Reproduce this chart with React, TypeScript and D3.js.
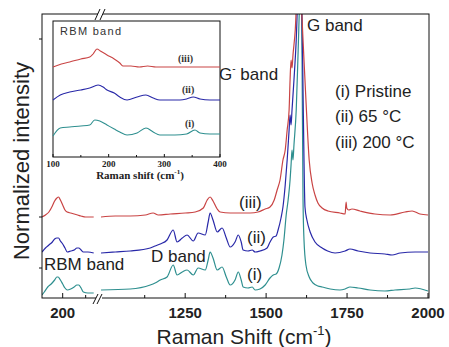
import * as d3 from "d3";

// Raman spectra, [shift cm-1, normalized intensity (offset)]
const pristineLow = [[110,3],[120,6],[135,11],[150,14],[165,18],[175,21],[180,21],[190,18],[200,14],[210,10],[220,8],[235,9],[250,11],[262,13],[270,13],[280,10],[290,6],[310,5],[335,5]];
const c65Low = [[110,46],[125,50],[140,53],[155,56],[165,59],[175,60],[182,60],[190,57],[200,54],[210,50],[220,46],[235,47],[250,48],[262,50],[270,50],[280,48],[290,46],[310,46],[335,45]];
const c200Low = [[110,81],[125,83],[140,86],[155,92],[165,97],[175,100],[182,101],[190,98],[200,93],[210,88],[220,86],[235,85],[250,84],[265,83],[280,82],[300,81],[320,81],[335,81]];

const pristineHigh = [[990,8],[1080,9],[1142,13],[1157,15],[1173,18],[1194,21],[1213,33],[1225,23],[1241,26],[1256,28],[1275,23],[1290,30],[1312,28],[1321,38],[1327,46],[1336,40],[1349,28],[1364,31],[1377,21],[1389,13],[1404,18],[1414,26],[1423,18],[1429,11],[1444,10],[1457,11],[1466,8],[1481,9],[1497,13],[1512,20],[1522,23],[1531,24],[1540,30],[1549,43],[1555,58],[1562,83],[1568,98],[1574,118],[1577,133],[1580,148],[1583,138],[1586,153],[1593,188],[1599,248],[1605,308],[1608,318],[1611,238],[1614,98],[1617,58],[1623,33],[1633,21],[1645,15],[1660,12],[1673,11],[1698,9],[1728,8],[1744,9],[1759,11],[1784,10],[1821,8],[1867,7],[1898,8],[1944,9],[1960,10],[2000,7]];
const c65High = [[990,45],[1034,46],[1080,47],[1142,50],[1157,52],[1173,54],[1194,58],[1213,68],[1225,56],[1241,60],[1256,63],[1275,57],[1290,65],[1312,63],[1321,76],[1327,85],[1336,78],[1349,66],[1364,70],[1377,60],[1389,51],[1404,56],[1414,63],[1423,56],[1429,48],[1444,47],[1457,48],[1466,46],[1481,47],[1503,50],[1512,56],[1522,61],[1531,62],[1537,68],[1546,80],[1552,91],[1559,113],[1565,138],[1571,168],[1574,183],[1577,173],[1580,188],[1586,218],[1593,258],[1599,308],[1605,318],[1611,278],[1614,208],[1617,138],[1620,91],[1626,78],[1636,66],[1651,56],[1673,50],[1690,47],[1713,45],[1744,47],[1759,49],[1784,47],[1821,45],[1867,44],[1889,43],[1914,45],[1960,46],[2000,46]];
const c200High = [[990,81],[1034,82],[1080,82],[1127,83],[1151,85],[1167,83],[1204,84],[1250,85],[1281,86],[1306,90],[1318,98],[1327,101],[1336,97],[1349,89],[1358,86],[1389,85],[1420,85],[1451,85],[1475,86],[1497,89],[1512,91],[1525,98],[1534,108],[1543,118],[1552,138],[1559,148],[1565,168],[1571,188],[1574,218],[1577,238],[1580,230],[1583,243],[1590,268],[1596,308],[1602,318],[1608,298],[1614,258],[1623,198],[1633,138],[1642,115],[1651,103],[1660,95],[1673,90],[1691,87],[1728,85],[1744,84],[1747,96],[1749,90],[1755,88],[1765,89],[1790,87],[1836,84],[1883,83],[1929,86],[1951,87],[1975,84],[2000,83]];

// inset RBM region
const insetPristine = [[100,21],[113,29],[130,30],[150,31],[166,32],[175,37],[184,36],[197,32],[210,28],[220,25],[233,22],[251,24],[267,29],[280,25],[292,22],[319,22],[340,23],[355,27],[364,24],[382,23],[400,23]];
const inset65 = [[100,57],[113,62],[130,65],[150,67],[166,69],[181,72],[190,70],[197,67],[210,64],[220,60],[233,57],[251,60],[267,62],[280,59],[292,57],[310,57],[328,57],[340,58],[352,60],[364,58],[382,57],[400,57]];
const inset200 = [[100,90],[115,93],[130,95],[150,98],[166,100],[172,103],[179,108],[185,106],[197,102],[210,98],[220,94],[226,91],[240,91],[255,90],[270,91],[285,90],[300,90],[330,90],[360,90],[400,90]];

const lowTicks = [200];
const lowMinor = [300];
const highTicks = [1250, 1500, 1750, 2000];
const highMinor = [1125, 1375, 1625, 1875];
const yTicks = [30, 81, 259];
const insetTicks = [100, 200, 300, 400];
const insetMinor = [150, 250, 350];

const RED = "#C94444";
const BLUE = "#2828A8";
const TEAL = "#2E8F8F";
const SANS = "'Liberation Sans', Arial, sans-serif";
const SERIF = "'Liberation Serif', 'Times New Roman', serif";

const W = 449, H = 347;
const L = 42, R = 429, T = 14, B = 298;

export default function App() {
  const xLow = d3.scaleLinear().domain([110, 345]).range([L, 96]);
  const xHigh = d3.scaleLinear().domain([990, 2000]).range([101, 428]);
  const y = d3.scaleLinear().domain([0, 284]).range([B, T]);

  const ix = d3.scaleLinear().domain([100, 400]).range([53, 220]);
  const iy = d3.scaleLinear().domain([0, 136]).range([157, 21]);

  const mk = (xs: d3.ScaleLinear<number, number>, ys: d3.ScaleLinear<number, number>) =>
    d3.line<number[]>().x((d) => xs(d[0])).y((d) => ys(d[1])).curve(d3.curveMonotoneX);
  const lowLine = mk(xLow, y);
  const highLine = mk(xHigh, y);
  const insetLine = mk(ix, iy);

  const series = [
    { low: pristineLow, high: pristineHigh, inset: insetPristine, color: TEAL },
    { low: c65Low, high: c65High, inset: inset65, color: BLUE },
    { low: c200Low, high: c200High, inset: inset200, color: RED },
  ];

  const brk = 98;

  return (
    <div style={{ position: "fixed", left: 0, top: 0 }}>
      <svg width={W} height={H} style={{ display: "block", background: "#fff" }}>
        <defs>
          <clipPath id="clipLow"><rect x={L} y={T} width={96 - L} height={B - T} /></clipPath>
          <clipPath id="clipHigh"><rect x={100} y={T} width={R - 100} height={B - T} /></clipPath>
        </defs>

        {series.map((s, i) => (
          <g key={i} fill="none" stroke={s.color} strokeWidth={1.2}>
            <path d={lowLine(s.low) ?? ""} clipPath="url(#clipLow)" />
            <path d={highLine(s.high) ?? ""} clipPath="url(#clipHigh)" />
          </g>
        ))}

        {/* frame */}
        <rect x={L} y={T} width={R - L} height={B - T} fill="none" stroke="#111" strokeWidth={1} />

        {/* bottom ticks */}
        {lowTicks.map((t) => (
          <line key={"lt" + t} x1={xLow(t)} x2={xLow(t)} y1={B} y2={B - 5} stroke="#111" />
        ))}
        {lowMinor.map((t) => (
          <line key={"lm" + t} x1={xLow(t)} x2={xLow(t)} y1={B} y2={B - 3} stroke="#111" />
        ))}
        {highTicks.map((t) => (
          <line key={"ht" + t} x1={xHigh(t)} x2={xHigh(t)} y1={B} y2={B - 5} stroke="#111" />
        ))}
        {highMinor.map((t) => (
          <line key={"hm" + t} x1={xHigh(t)} x2={xHigh(t)} y1={B} y2={B - 3} stroke="#111" />
        ))}
        {yTicks.map((t) => (
          <line key={"y" + t} x1={L - 3} x2={L} y1={y(t)} y2={y(t)} stroke="#111" />
        ))}

        {/* axis break marks */}
        <line x1={brk - 2} x2={brk + 4} y1={B} y2={B} stroke="#fff" strokeWidth={2} />
        <line x1={brk - 5} x2={brk} y1={B + 6} y2={B - 4} stroke="#111" />
        <line x1={brk - 1} x2={brk + 4} y1={B + 6} y2={B - 4} stroke="#111" />
        <line x1={brk} x2={brk + 5} y1={T} y2={T} stroke="#fff" strokeWidth={2} />
        <line x1={brk - 3} x2={brk + 2} y1={T + 6} y2={T - 5} stroke="#111" />
        <line x1={brk + 2} x2={brk + 7} y1={T + 6} y2={T - 5} stroke="#111" />

        {/* tick labels */}
        <g fontFamily={SANS} fontWeight="bold" fontSize={15} fill="#222" textAnchor="middle">
          {lowTicks.map((t) => (
            <text key={t} x={xLow(t)} y={318}>{t}</text>
          ))}
          {highTicks.map((t) => (
            <text key={t} x={xHigh(t)} y={318}>{t}</text>
          ))}
        </g>

        {/* axis titles */}
        <text x={244} y={344} fontFamily={SANS} fontSize={21} fill="#222" textAnchor="middle">
          Raman Shift (cm<tspan fontSize={13} dy={-9}>-1</tspan><tspan dy={9}>)</tspan>
        </text>
        <text transform="translate(29,161) rotate(-90)" fontFamily={SANS} fontSize={22} fill="#222" textAnchor="middle">
          Normalized intensity
        </text>

        {/* annotations */}
        <g fontFamily={SANS} fontSize={17} fill="#222">
          <text x={307} y={31}>G band</text>
          <text x={219} y={80}>G<tspan fontSize={10} dy={-8}>-</tspan><tspan dy={8}> band</tspan></text>
          <text x={335} y={97}>(i) Pristine</text>
          <text x={335} y={122}>(ii) 65 °C</text>
          <text x={335} y={148}>(iii) 200 °C</text>
          <text x={239} y={208}>(iii)</text>
          <text x={247} y={243}>(ii)</text>
          <text x={247} y={280}>(i)</text>
          <text x={44} y={270}>RBM band</text>
          <text x={151} y={262}>D band</text>
        </g>

        {/* inset */}
        <rect x={53} y={21} width={167} height={136} fill="#fff" stroke="#111" strokeWidth={1} />
        {series.map((s, i) => (
          <path key={"in" + i} d={insetLine(s.inset) ?? ""} fill="none" stroke={s.color} strokeWidth={1.1} />
        ))}
        {insetTicks.map((t) => (
          <line key={"it" + t} x1={ix(t)} x2={ix(t)} y1={157} y2={154} stroke="#111" />
        ))}
        {insetMinor.map((t) => (
          <line key={"im" + t} x1={ix(t)} x2={ix(t)} y1={157} y2={155} stroke="#111" />
        ))}
        <g fontFamily={SERIF} fontWeight="bold" fontSize={9} fill="#222" textAnchor="middle">
          {insetTicks.map((t) => (
            <text key={t} x={ix(t)} y={167}>{t}</text>
          ))}
        </g>
        <text x={140} y={179} fontFamily={SERIF} fontWeight="bold" fontSize={11} fill="#222" textAnchor="middle">
          Raman shift (cm<tspan fontSize={7} dy={-5}>-1</tspan><tspan dy={5}>)</tspan>
        </text>
        <text x={60} y={35} fontFamily={SANS} fontSize={11} letterSpacing={1.3} fill="#333">RBM band</text>
        <g fontFamily={SERIF} fontWeight="bold" fontSize={10} fill="#333">
          <text x={178} y={62}>(iii)</text>
          <text x={182} y={93}>(ii)</text>
          <text x={185} y={127}>(i)</text>
        </g>
      </svg>
    </div>
  );
}
